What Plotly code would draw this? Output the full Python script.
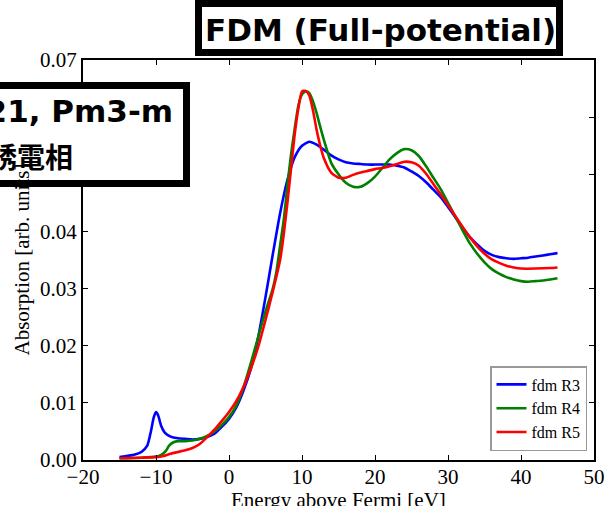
import plotly.graph_objects as go

# Energy grids [eV] and absorption values [arb. units] for each FDM run
energy_r3 = [-15, -13, -12, -11.2, -10.7, -10.3, -10, -9.7, -9.3, -8.8, -8, -7, -6, -5, -4,
             -3, -2, -1, 0, 1, 2, 3, 4, 5, 6, 7, 8, 9, 10, 11, 12, 13, 14, 15, 16, 17, 18,
             19, 20, 21, 22, 23, 24, 25, 26, 27, 28, 29, 30, 31, 32, 33, 34, 35, 36, 37,
             38, 39, 40, 41, 42, 43, 44, 45]
absorb_r3 = [0.0005, 0.0009, 0.0014, 0.0025, 0.0050, 0.0075, 0.0084, 0.0078, 0.0060, 0.0048,
             0.0041, 0.0038, 0.0037, 0.0036, 0.0037, 0.0040, 0.0046, 0.0058, 0.0072, 0.0092,
             0.0122, 0.0160, 0.0215, 0.0285, 0.0360, 0.0432, 0.0490, 0.0530, 0.0550, 0.0557,
             0.0552, 0.0543, 0.0533, 0.0526, 0.0521, 0.0519, 0.0518, 0.0517, 0.0517, 0.0517,
             0.0517, 0.0515, 0.0512, 0.0505, 0.0497, 0.0486, 0.0473, 0.0460, 0.0443, 0.0425,
             0.0407, 0.0390, 0.0377, 0.0366, 0.0359, 0.0355, 0.0353, 0.0352, 0.0353, 0.0354,
             0.0356, 0.0358, 0.0360, 0.0362]

energy_r4 = [-15, -12, -10, -9.3, -8.7, -8.2, -7.6, -7, -6, -5, -4, -3, -2, -1, 0, 1, 2, 3,
             4, 5, 6, 6.5, 7, 7.5, 8, 8.5, 9, 9.5, 10, 10.5, 11, 11.5, 12, 12.5, 13, 14, 15,
             16, 17, 18, 19, 20, 21, 22, 23, 24, 25, 26, 27, 28, 29, 30, 31, 32, 33, 34, 35,
             36, 37, 38, 39, 40, 41, 42, 43, 44, 45]
absorb_r4 = [0.0003, 0.0004, 0.0006, 0.0009, 0.0015, 0.0025, 0.0031, 0.0033, 0.0033, 0.0034,
             0.0037, 0.0042, 0.0050, 0.0061, 0.0075, 0.0095, 0.0128, 0.0170, 0.0215, 0.0260,
             0.0300, 0.0330, 0.0375, 0.0420, 0.0480, 0.0535, 0.0580, 0.0620, 0.0640, 0.0645,
             0.0642, 0.0628, 0.0607, 0.0583, 0.0560, 0.0520, 0.0500, 0.0485, 0.0478, 0.0478,
             0.0485, 0.0496, 0.0511, 0.0526, 0.0537, 0.0544, 0.0542, 0.0532, 0.0514, 0.0494,
             0.0474, 0.0450, 0.0426, 0.0402, 0.0379, 0.0361, 0.0346, 0.0334, 0.0326, 0.0320,
             0.0316, 0.0313, 0.0312, 0.0313, 0.0314, 0.0316, 0.0318]

energy_r5 = [-15, -12, -10, -9, -8, -7, -6, -5, -4, -3, -2, -1, 0, 1, 2, 3, 4, 5, 6, 7, 7.5,
             8, 8.5, 9, 9.5, 10, 10.5, 11, 11.5, 12, 12.5, 13, 14, 15, 16, 17, 18, 19, 20,
             21, 22, 23, 24, 25, 26, 27, 28, 29, 30, 31, 32, 33, 34, 35, 36, 37, 38, 39, 40,
             42, 44, 45]
absorb_r5 = [0.0003, 0.0004, 0.0005, 0.0007, 0.0011, 0.0014, 0.0017, 0.0021, 0.0028, 0.0040,
             0.0053, 0.0068, 0.0084, 0.0103, 0.0128, 0.0160, 0.0198, 0.0245, 0.0295, 0.0350,
             0.0395, 0.0450, 0.0510, 0.0570, 0.0615, 0.0645, 0.0646, 0.0638, 0.0612, 0.0578,
             0.0550, 0.0528, 0.0503, 0.0494, 0.0494, 0.0499, 0.0503, 0.0506, 0.0509, 0.0511,
             0.0514, 0.0518, 0.0522, 0.0521, 0.0515, 0.0501, 0.0483, 0.0465, 0.0446, 0.0427,
             0.0408, 0.0390, 0.0374, 0.0361, 0.0351, 0.0345, 0.0340, 0.0337, 0.0335, 0.0335,
             0.0336, 0.0337]

series = [
    ("fdm R3", energy_r3, absorb_r3, "#0000ff"),
    ("fdm R4", energy_r4, absorb_r4, "#008000"),
    ("fdm R5", energy_r5, absorb_r5, "#ff0000"),
]

x_ticks = [-20, -10, 0, 10, 20, 30, 40, 50]
y_ticks = [0.00, 0.01, 0.02, 0.03, 0.04, 0.05, 0.06, 0.07]
x_title = "Energy above Fermi [eV]"
y_title = "Absorption [arb. units]"

W, H = 612, 506
ML, MR, MT, MB = 83, 18, 60, 46
PW, PH = W - ML - MR, H - MT - MB


def px(x):
    return (x - ML) / PW


def py(y):
    return (H - MB - y) / PH


fig = go.Figure()
for name, xs, ys, color in series:
    fig.add_trace(go.Scatter(
        x=xs, y=ys, name=name, mode="lines",
        line=dict(color=color, width=2.6, shape="spline", smoothing=0.6),
    ))

serif = "Liberation Serif, Times New Roman, serif"
axis_common = dict(
    showline=True, linewidth=2, linecolor="black", mirror="ticks",
    ticks="inside", ticklen=5, tickwidth=1, tickcolor="black",
    showgrid=False, zeroline=False, automargin=False,
    tickfont=dict(family=serif, size=21, color="black"),
)
fig.update_xaxes(range=[-20, 50], tickvals=x_ticks,
                 ticktext=[f"{v}" if v >= 0 else f"\u2212{abs(v)}" for v in x_ticks],
                 ticklabelstandoff=-3, **axis_common)
fig.update_yaxes(range=[0, 0.07], tickvals=y_ticks, ticktext=[f"{v:.2f}" for v in y_ticks],
                 **axis_common)

# Axis titles placed as free text so they can sit at the page edges
fig.add_annotation(xref="paper", yref="paper", x=0.5, y=py(500), xanchor="center", yanchor="middle",
                   text=x_title, showarrow=False, font=dict(family=serif, size=21, color="black"))
fig.add_annotation(xref="paper", yref="paper", x=px(21.5), y=0.5, xanchor="center", yanchor="middle",
                   text=y_title, showarrow=False, textangle=-90,
                   font=dict(family=serif, size=21, color="black"))

# Overlay label boxes
bold_sans = "DejaVu Sans, sans-serif"
cjk = "Noto Sans CJK JP, sans-serif"
fig.add_shape(type="rect", xref="paper", yref="paper",
              x0=px(198.5), x1=px(559.5), y0=py(52.5), y1=py(3.5),
              line=dict(color="black", width=7), fillcolor="white", layer="above")
fig.add_annotation(xref="paper", yref="paper", x=px(380), y=py(30), xanchor="center", yanchor="middle",
                   text="<b>FDM (Full-potential)</b>", showarrow=False,
                   font=dict(family=bold_sans, size=31, color="black"))

fig.add_shape(type="rect", xref="paper", yref="paper",
              x0=px(-20), x1=px(186.5), y0=py(183.5), y1=py(85.5),
              line=dict(color="black", width=7), fillcolor="white", layer="above")
fig.add_annotation(xref="paper", yref="paper", x=px(175), y=py(111), xanchor="right", yanchor="middle",
                   text="<b>No.221, Pm3-m</b>", showarrow=False,
                   font=dict(family=bold_sans, size=31, color="black"))
fig.add_annotation(xref="paper", yref="paper", x=px(75), y=py(156), xanchor="right", yanchor="middle",
                   text="<b>常誘電相</b>", showarrow=False,
                   font=dict(family=cjk, size=28, color="black"))

fig.update_layout(
    width=W, height=H,
    margin=dict(l=ML, r=MR, t=MT, b=MB),
    paper_bgcolor="white", plot_bgcolor="white",
    showlegend=True,
    legend=dict(x=px(587), y=py(451), xanchor="right", yanchor="bottom",
                bgcolor="white", bordercolor="#999999", borderwidth=1.5,
                font=dict(family=serif, size=16, color="black"), itemwidth=30,
                tracegroupgap=0),
)

fig.write_html("out.html")
